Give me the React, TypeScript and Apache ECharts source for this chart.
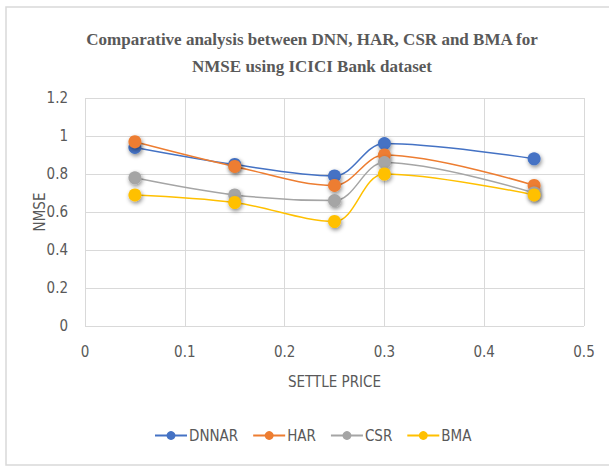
import React, { useEffect, useRef } from "react";
import * as echarts from "echarts";

const settlePrice = [0.05, 0.15, 0.25, 0.3, 0.45];
const dnnar = [0.94, 0.85, 0.79, 0.96, 0.88];
const har = [0.97, 0.84, 0.74, 0.9, 0.74];
const csr = [0.78, 0.69, 0.66, 0.86, 0.7];
const bma = [0.69, 0.65, 0.55, 0.8, 0.69];

const seriesNames = ["DNNAR", "HAR", "CSR", "BMA"];
const seriesColors = ["#4472C4", "#ED7D31", "#A5A5A5", "#FFC000"];
const seriesValues = [dnnar, har, csr, bma];

const labelFont = "'Liberation Sans Narrow', 'DejaVu Sans Condensed', Lato, sans-serif";

export default function App() {
  const ref = useRef<HTMLDivElement>(null);

  useEffect(() => {
    document.body.style.margin = "0";
    const chart = echarts.init(ref.current!, null, { renderer: "svg" });
    chart.setOption({
      animation: false,
      backgroundColor: "#ffffff",
      graphic: [
        {
          type: "rect",
          shape: { x: 6, y: 7, width: 620, height: 458 },
          style: { fill: "none", stroke: "#d9d9d9", lineWidth: 1.5 },
          silent: true,
        },
      ],
      title: {
        text: "Comparative analysis between DNN, HAR, CSR and BMA for\nNMSE using ICICI Bank dataset",
        left: 307,
        top: 21,
        textAlign: "center",
        textStyle: {
          fontFamily: "'Liberation Serif', serif",
          fontWeight: "bold",
          fontSize: 17,
          lineHeight: 27,
          color: "#595959",
        },
      },
      grid: { left: 85, right: 25, top: 98, bottom: 142 },
      xAxis: {
        type: "value",
        min: 0,
        max: 0.5,
        interval: 0.1,
        name: "SETTLE PRICE",
        nameLocation: "middle",
        nameGap: 48,
        nameMoveOverlap: false,
        nameTextStyle: { color: "#595959", fontSize: 15, fontFamily: labelFont },
        axisLine: { show: false },
        axisTick: { show: false },
        axisLabel: { color: "#595959", fontSize: 15, fontFamily: labelFont, margin: 18 },
        splitLine: { show: true, lineStyle: { color: "#d9d9d9", width: 1 } },
      },
      yAxis: {
        type: "value",
        min: 0,
        max: 1.2,
        interval: 0.2,
        name: "NMSE",
        nameLocation: "middle",
        nameGap: 38,
        nameMoveOverlap: false,
        nameTextStyle: { color: "#595959", fontSize: 15, fontFamily: labelFont },
        axisLine: { show: false },
        axisTick: { show: false },
        axisLabel: { color: "#595959", fontSize: 15, fontFamily: labelFont, margin: 17 },
        splitLine: { show: true, lineStyle: { color: "#d9d9d9", width: 1 } },
      },
      legend: {
        bottom: 20,
        left: 149,
        itemWidth: 32,
        itemHeight: 11,
        itemGap: 14,
        textStyle: { color: "#595959", fontSize: 15, fontFamily: labelFont, padding: [0, 0, 0, -3] },
        data: seriesNames,
      },
      series: seriesNames.map((name, i) => ({
        name,
        type: "line",
        smooth: 0.35,
        symbol: "circle",
        symbolSize: 13,
        color: seriesColors[i],
        lineStyle: { width: 1.5, color: seriesColors[i] },
        itemStyle: {
          color: seriesColors[i],
          shadowBlur: 4,
          shadowColor: "rgba(0,0,0,0.45)",
          shadowOffsetX: 1,
          shadowOffsetY: 2,
        },
        data: settlePrice.map((x, j) => [x, seriesValues[i][j]]),
      })),
    });
    return () => chart.dispose();
  }, []);

  return <div ref={ref} style={{ width: 609, height: 468 }} />;
}
